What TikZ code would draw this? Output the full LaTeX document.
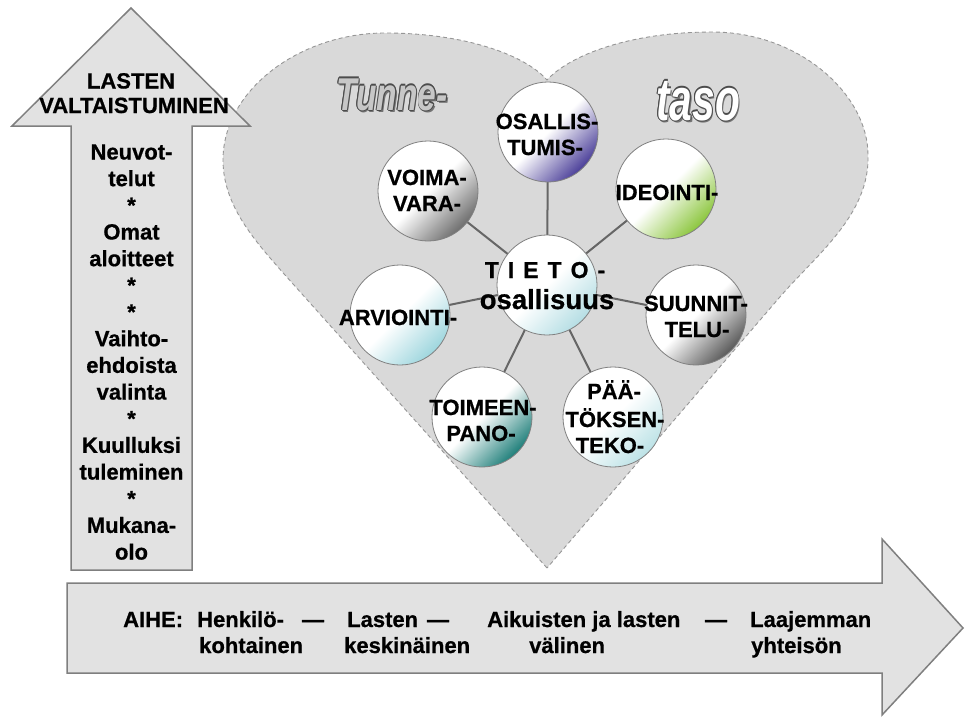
\documentclass[tikz,border=0pt]{standalone}
\usepackage{fontspec}
\setmainfont{Liberation Sans}[BoldFeatures={FakeBold=0.7}]
\usepackage{graphicx}
\pgfdeclarelayer{back}
\pgfdeclarelayer{mid}
\pgfsetlayers{back,mid,main}
\definecolor{heartfill}{HTML}{D9D9D9}
\definecolor{heartline}{HTML}{969696}
\definecolor{arrowfill}{HTML}{E2E2E2}
\definecolor{arrowline}{HTML}{7F7F7F}
\definecolor{cOsa}{HTML}{4B3F99}
\definecolor{cVoi}{HTML}{6E6E6E}
\definecolor{cIde}{HTML}{8CC63E}
\definecolor{cTie}{HTML}{B5DEE4}
\definecolor{cArv}{HTML}{9ED6DE}
\definecolor{cSuu}{HTML}{5A5A5A}
\definecolor{cToi}{HTML}{1F7F7A}
\definecolor{cPaa}{HTML}{BCE2E6}
\newcommand\myoutline[3]{%
  \leavevmode
  \rlap{\kern2.2pt\raisebox{-2.2pt}{\color{black!55}#3}}%
  \rlap{\kern-1.1pt{\color{#1}#3}}%
  \rlap{\kern1.1pt{\color{#1}#3}}%
  \rlap{\raisebox{1.1pt}{\color{#1}#3}}%
  \rlap{\raisebox{-1.1pt}{\color{#1}#3}}%
  \rlap{\kern0.8pt\raisebox{0.8pt}{\color{#1}#3}}%
  \rlap{\kern-0.8pt\raisebox{0.8pt}{\color{#1}#3}}%
  \rlap{\kern0.8pt\raisebox{-0.8pt}{\color{#1}#3}}%
  \rlap{\kern-0.8pt\raisebox{-0.8pt}{\color{#1}#3}}%
  {\color{#2}#3}}
\begin{document}
\begin{tikzpicture}[x=1pt,y=-1pt,
  bubble/.style={circle, minimum size=100pt, inner sep=0pt, draw=black!50, line width=0.8pt,
    top color=white, bottom color=#1, middle color=white, shading angle=45},
  ctext/.style={font=\fontsize{22}{26}\selectfont\bfseries, anchor=base, inner sep=0pt},
  spoke/.style={draw=black!60, line width=2pt},
  arrowbox/.style={fill=arrowfill, draw=arrowline, line width=1.5pt, line join=miter},
  heartshape/.style={fill=heartfill, draw=heartline, line width=0.9pt, dash pattern=on 4pt off 3pt}]
\useasboundingbox (0,0) rectangle (965,717);

% heart and arrows
\begin{pgfonlayer}{back}
\path[heartshape] (547,568) -- (285,275)
  .. controls (254,240) and (223,205) .. (223,160)
  .. controls (223,90) and (300,33) .. (385,33)
  .. controls (465,33) and (525,55) .. (547,80)
  .. controls (570,55) and (630,32) .. (712,32)
  .. controls (800,32) and (868,95) .. (868,155)
  .. controls (870,215) and (815,256) .. (779,298) -- cycle;
\path[arrowbox] (131,8) -- (250,126) -- (192,126) -- (192,570) -- (71,570) -- (71,126) -- (12,126) -- cycle;
\path[arrowbox] (67,583) -- (882,583) -- (882,539) -- (963,628) -- (882,715) -- (882,673) -- (67,673) -- cycle;
\end{pgfonlayer}

% bubbles
\node[bubble=cOsa] (osa) at (548,132) {};
\node[bubble=cVoi] (voi) at (428,191) {};
\node[bubble=cIde] (ide) at (666,189) {};
\node[bubble=cTie] (tie) at (547,285) {};
\node[bubble=cArv] (arv) at (400,315) {};
\node[bubble=cSuu] (suu) at (696,315) {};
\node[bubble=cToi] (toi) at (482,417) {};
\node[bubble=cPaa] (paa) at (613,417) {};

\begin{pgfonlayer}{mid}
\foreach \n in {osa,voi,ide,arv,suu,toi,paa}
  \draw[spoke] (tie.center) -- (\n.center);
\end{pgfonlayer}

% bubble texts
\node[ctext] (osa1) at (547,129) {OSALLIS-};
\node[ctext] (osa2) at (545,155) {TUMIS-};
\node[ctext] (voi1) at (427,185) {VOIMA-};
\node[ctext] (voi2) at (427,211) {VARA-};
\node[ctext] (ide1) at (667,200) {IDEOINTI-};
\node[ctext, font=\fontsize{23}{26}\selectfont\bfseries] (tie1) at (545,278)
  {T\hspace{9pt}I\hspace{9pt}E\hspace{9pt}T\hspace{9pt}O\hspace{9pt}-};
\node[ctext, font=\fontsize{27.5}{30}\selectfont\bfseries] (tie2) at (547,309) {osallisuus};
\node[ctext] (arv1) at (398,325) {ARVIOINTI-};
\node[ctext] (suu1) at (696,311) {SUUNNIT-};
\node[ctext] (suu2) at (697,337) {TELU-};
\node[ctext] (toi1) at (483,415) {TOIMEEN-};
\node[ctext] (toi2) at (481,441) {PANO-};
\node[ctext] (paa1) at (614,399) {PÄÄ-};
\node[ctext] (paa2) at (615,427) {TÖKSEN-};
\node[ctext] (paa3) at (610,453) {TEKO-};

% decorative headings
\node[anchor=base, inner sep=0pt] (tunne) at (392,110)
  {\scalebox{0.73}[1]{\fontsize{46}{50}\selectfont\bfseries\itshape\myoutline{black!70}{black!22}{Tunne-}}};
\node[anchor=base, inner sep=0pt] (taso) at (698,120)
  {\scalebox{0.68}[1]{\fontsize{60}{64}\selectfont\bfseries\itshape\myoutline{black!70}{white}{taso}}};

% up arrow texts
\node[ctext] (hdr1) at (131,88.5) {LASTEN};
\node[ctext] (hdr2) at (134,113) {VALTAISTUMINEN};
\foreach \t [count=\i from 0] in {Neuvot-,telut,*,Omat,aloitteet,*,*,Vaihto-,ehdoista,valinta,*,Kuulluksi,tuleminen,*,Mukana-,olo}
  \node[ctext] (up\i) at (131.5,{159.5+26.67*\i}) {\t};

% bottom arrow texts
\node[ctext, anchor=base west] (aihe) at (123,627) {AIHE:};
\node[ctext, anchor=base west] (h1) at (197,627) {Henkilö-};
\node[ctext, anchor=base west] (h2) at (199,653) {kohtainen};
\node[ctext] (d1) at (313,627) {—};
\node[ctext, anchor=base west] (l1) at (347,627) {Lasten};
\node[ctext, anchor=base west] (l2) at (344,653) {keskinäinen};
\node[ctext] (d2) at (438,627) {—};
\node[ctext, anchor=base west] (a1) at (487,627) {Aikuisten ja lasten};
\node[ctext, anchor=base west] (a2) at (529,653) {välinen};
\node[ctext] (d3) at (716,627) {—};
\node[ctext, anchor=base west] (y1) at (750,627) {Laajemman};
\node[ctext, anchor=base west] (y2) at (751,653) {yhteisön};
\end{tikzpicture}
\end{document}
